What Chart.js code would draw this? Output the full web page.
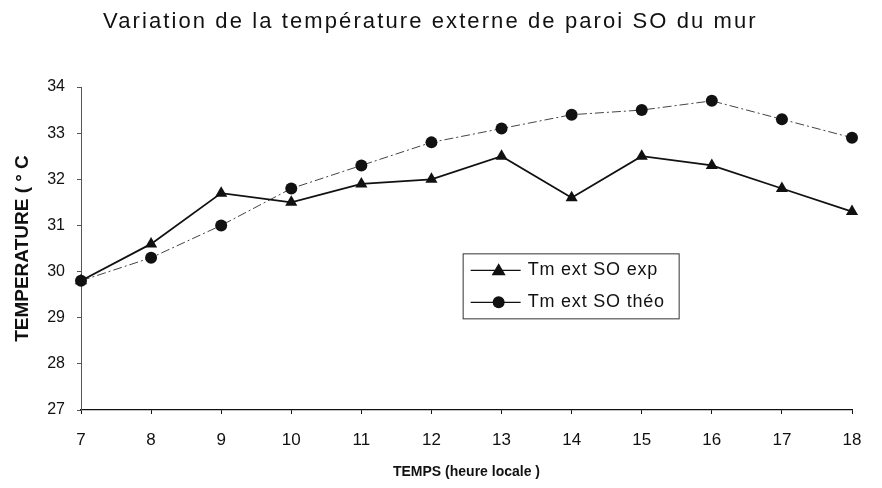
<!DOCTYPE html>
<html lang="fr">
<head>
<meta charset="utf-8">
<title>Variation de la température externe de paroi SO du mur</title>
<script src="https://cdn.jsdelivr.net/npm/chart.js@4/dist/chart.umd.min.js"></script>
<style>
  html, body { margin: 0; padding: 0; background: #fff; }
  #wrap { width: 882px; height: 488px; position: relative; }
</style>
</head>
<body>
<div id="wrap"><canvas id="chart" width="882" height="488"></canvas></div>
<script>
// hours of the day (x categories)
const hours = ["7", "8", "9", "10", "11", "12", "13", "14", "15", "16", "17", "18"];
// measured wall surface temperature (°C)
const tmExp = [29.8, 30.6, 31.7, 31.5, 31.9, 32.0, 32.5, 31.6, 32.5, 32.3, 31.8, 31.3];
// theoretical wall surface temperature (°C)
const tmTheo = [29.8, 30.3, 31.0, 31.8, 32.3, 32.8, 33.1, 33.4, 33.5, 33.7, 33.3, 32.9];
const yTicks = [27, 28, 29, 30, 31, 32, 33, 34];
const chartTitle = "Variation de la température externe de paroi SO du mur";

const FONT = "'Liberation Sans', Arial, sans-serif";
const INK = "#111";

// title drawn by hand: the scanned original has wide letter spacing
const spacedTitle = {
  id: "spacedTitle",
  afterDraw(chart) {
    const { ctx } = chart;
    ctx.save();
    ctx.fillStyle = INK;
    ctx.font = "22px " + FONT;
    ctx.letterSpacing = "2.1px";
    ctx.textAlign = "center";
    ctx.textBaseline = "middle";
    ctx.fillText(chartTitle, chart.width * 0.488, 22);
    ctx.restore();
  },
};

// boxed key sitting inside the plot
const boxLegend = {
  id: "boxLegend",
  afterDraw(chart) {
    const { ctx, chartArea } = chart;
    const x0 = chartArea.left + (chartArea.right - chartArea.left) * 0.495;
    const y0 = chartArea.top + (chartArea.bottom - chartArea.top) * 0.515;
    const w = 216, h = 65;
    ctx.save();
    ctx.strokeStyle = "#333";
    ctx.lineWidth = 1;
    ctx.strokeRect(x0 + 0.5, y0 + 0.5, w, h);
    chart.data.datasets.forEach((ds, i) => {
      const ly = y0 + 17 + i * 32;
      ctx.strokeStyle = INK;
      ctx.lineWidth = 1.2;
      ctx.beginPath();
      ctx.moveTo(x0 + 8, ly);
      ctx.lineTo(x0 + 58, ly);
      ctx.stroke();
      ctx.fillStyle = INK;
      ctx.beginPath();
      if (ds.pointStyle === "triangle") {
        ctx.moveTo(x0 + 36, ly - 7);
        ctx.lineTo(x0 + 43, ly + 5);
        ctx.lineTo(x0 + 29, ly + 5);
        ctx.closePath();
      } else {
        ctx.arc(x0 + 36, ly, 6, 0, Math.PI * 2);
      }
      ctx.fill();
      ctx.font = "18px " + FONT;
      ctx.letterSpacing = "0.8px";
      ctx.textBaseline = "middle";
      ctx.fillText(ds.label, x0 + 65, ly);
    });
    ctx.restore();
  },
};

new Chart(document.getElementById("chart"), {
  type: "line",
  data: {
    labels: hours,
    datasets: [
      {
        label: "Tm ext SO exp",
        data: tmExp,
        borderColor: INK,
        backgroundColor: INK,
        borderWidth: 1.8,
        pointStyle: "triangle",
        pointRadius: 7,
        pointBorderWidth: 0,
        tension: 0,
      },
      {
        label: "Tm ext SO théo",
        data: tmTheo,
        borderColor: "#444",
        backgroundColor: INK,
        borderWidth: 1,
        borderDash: [9, 3, 2, 3],
        pointStyle: "circle",
        pointRadius: 6,
        pointBorderWidth: 0,
        tension: 0,
      },
    ],
  },
  options: {
    responsive: false,
    animation: false,
    layout: { padding: { left: 0, right: 30, top: 87, bottom: 0 } },
    scales: {
      x: {
        type: "category",
        offset: false,
        border: { display: true, color: INK, width: 1.2 },
        grid: { display: true, drawOnChartArea: false, drawTicks: true, tickLength: 4, color: INK },
        ticks: { color: INK, font: { family: FONT, size: 17 }, padding: 16, maxRotation: 0 },
        title: {
          display: true,
          text: "TEMPS (heure locale )",
          color: INK,
          font: { family: FONT, size: 14, weight: "bold" },
          padding: { top: 0, bottom: 7 },
        },
        afterFit(scale) { scale.height = 78; },
      },
      y: {
        min: 27,
        max: 34,
        afterBuildTicks(scale) { scale.ticks = yTicks.map((v) => ({ value: v })); },
        border: { display: true, color: "#555", width: 1, dash: [4, 3] },
        grid: { display: true, drawOnChartArea: false, drawTicks: true, tickLength: 4, color: "#555" },
        ticks: { color: INK, font: { family: FONT, size: 16 }, padding: 12 },
        title: {
          display: true,
          text: "TEMPERATURE ( ° C",
          color: INK,
          font: { family: FONT, size: 19, weight: "bold" },
          padding: { top: 11, bottom: 0 },
        },
        afterFit(scale) { scale.width = 81; },
      },
    },
    plugins: {
      legend: { display: false },
      tooltip: { enabled: false },
      title: { display: false },
    },
  },
  plugins: [spacedTitle, boxLegend],
});
</script>
</body>
</html>
